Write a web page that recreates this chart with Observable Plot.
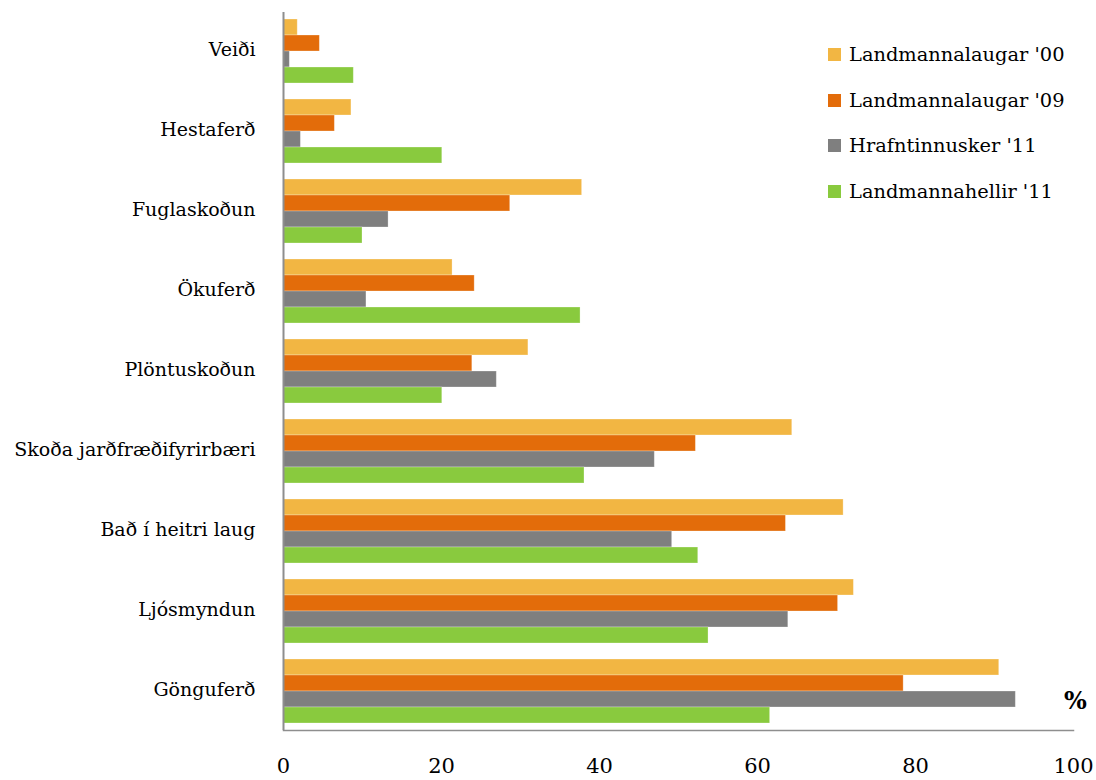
<!DOCTYPE html>
<html>
<head>
<meta charset="utf-8">
<script src="https://cdn.jsdelivr.net/npm/d3@7"></script>
<script src="https://cdn.jsdelivr.net/npm/@observablehq/plot@0.6"></script>
<style>
  html, body { margin: 0; padding: 0; background: #fff; }
  #wrap { position: relative; width: 1096px; height: 780px; }
  #legend { position: absolute; left: 828px; top: 32px; font-family: "DejaVu Serif", "Liberation Serif", serif; font-size: 19.4px; color: #000; }
  #legend .row { height: 45.5px; display: flex; align-items: center; margin-top: 0; }
  #legend .sw { width: 13px; height: 13px; margin-right: 8px; display: inline-block; }
</style>
</head>
<body>
<div id="wrap">
  <div id="chart"></div>
  <div id="legend"></div>
</div>
<script>
const categories = ["Veiði", "Hestaferð", "Fuglaskoðun", "Ökuferð", "Plöntuskoðun", "Skoða jarðfræðifyrirbæri", "Bað í heitri laug", "Ljósmyndun", "Gönguferð"];
const series = ["Landmannalaugar '00", "Landmannalaugar '09", "Hrafntinnusker '11", "Landmannahellir '11"];
const colors = ["#F2B643", "#E36C0A", "#7F7F7F", "#89CA3E"];
const laugar00 = [1.8, 8.6, 37.8, 21.4, 31.0, 64.4, 70.9, 72.2, 90.6];
const laugar09 = [4.6, 6.5, 28.7, 24.2, 23.9, 52.2, 63.6, 70.2, 78.5];
const hrafn11  = [0.8, 2.2, 13.3, 10.5, 27.0, 47.0, 49.2, 63.9, 92.7];
const hellir11 = [8.9, 20.1, 10.0, 37.6, 20.1, 38.1, 52.5, 53.8, 61.6];
const xTicks = [0, 20, 40, 60, 80, 100];

const valuesBySeries = [laugar00, laugar09, hrafn11, hellir11];
const rows = [];
series.forEach((s, si) => {
  categories.forEach((c, ci) => rows.push({category: c, series: s, si, value: valuesBySeries[si][ci]}));
});

const height = 780, marginTop = 12, marginBottom = 50;
const n = categories.length, padIn = 0.2, padOut = 0.0875;
const step = (height - marginTop - marginBottom) / (n - padIn + 2 * padOut);
const bw = step * (1 - padIn);
const sub = bw / 4;

const barMarks = series.map((s, si) => Plot.barX(rows.filter(d => d.si === si), {
  x: "value",
  y: "category",
  fill: colors[si],
  insetTop: si * sub,
  insetBottom: (3 - si) * sub,
  stroke: "#fff",
  strokeOpacity: 0.35,
  strokeWidth: 0.8
}));

const FONT = "'DejaVu Serif', 'Liberation Serif', serif";

const chart = Plot.plot({
  width: 1096,
  height,
  marginTop,
  marginBottom,
  marginLeft: 283,
  marginRight: 23,
  style: {fontFamily: FONT, fontSize: "19px", color: "#000", background: "#fff"},
  x: {domain: [0, 100], ticks: xTicks},
  y: {domain: categories, paddingInner: padIn, paddingOuter: padOut, round: false, range: [marginTop, height - marginBottom]},
  marks: [
    ...barMarks,
    Plot.axisX({ticks: xTicks, tickSize: 0, tickPadding: 28, label: null, fontSize: 21}),
    Plot.axisY({tickSize: 0, tickPadding: 28, label: null, fontSize: 19, dy: -2}),
    Plot.ruleX([0], {stroke: "#8E8E8E", strokeWidth: 2}),
    Plot.frame({anchor: "bottom", stroke: "#8E8E8E", strokeWidth: 1.5}),
    Plot.text(["%"], {frameAnchor: "bottom-right", text: d => d, dx: 2, dy: -22, fontSize: 24, fontWeight: "bold", textAnchor: "middle"})
  ]
});
document.getElementById("chart").appendChild(chart);

const legend = document.getElementById("legend");
series.forEach((s, i) => {
  const row = document.createElement("div");
  row.className = "row";
  const sw = document.createElement("span");
  sw.className = "sw";
  sw.style.background = colors[i];
  const t = document.createElement("span");
  t.textContent = s;
  row.appendChild(sw);
  row.appendChild(t);
  legend.appendChild(row);
});
</script>
</body>
</html>
